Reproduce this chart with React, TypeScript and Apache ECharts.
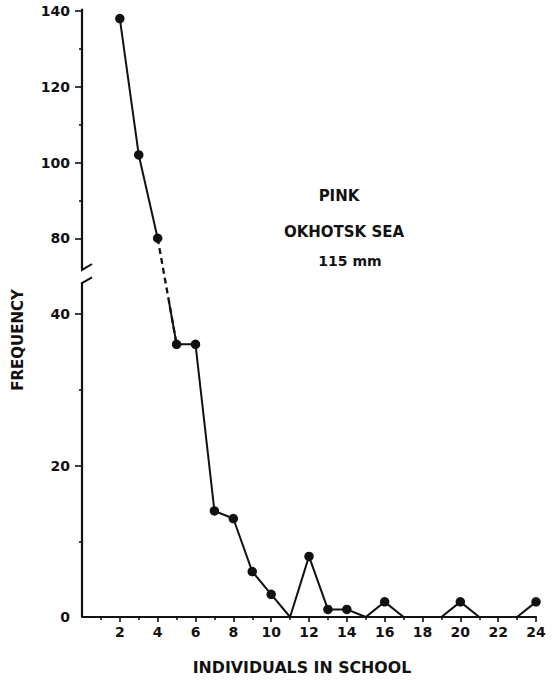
import React, { useEffect, useRef } from "react";
import * as echarts from "echarts";

// ---- data ----
const SCHOOL_SIZE = [2, 3, 4, 5, 6, 7, 8, 9, 10, 11, 12, 13, 14, 15, 16, 17, 18, 19, 20, 21, 22, 23, 24];
const FREQUENCY = [138, 102, 80, 36, 36, 14, 13, 6, 3, 0, 8, 1, 1, 0, 2, 0, 0, 0, 2, 0, 0, 0, 2];
const X_TICK_LABELS = [2, 4, 6, 8, 10, 12, 14, 16, 18, 20, 22, 24];
const X_MINOR_TICKS = [1, 3, 5, 7, 9, 11, 13, 15, 17, 19, 21, 23];
const Y_TICK_LABELS = [0, 20, 40, 80, 100, 120, 140];
const Y_MINOR_TICKS = [10, 30, 90, 110, 130];
const NOTE_LINES = ["PINK", "OKHOTSK SEA", "115 mm"];
const X_TITLE = "INDIVIDUALS IN SCHOOL";
const Y_TITLE = "FREQUENCY";

// ---- broken-axis mapping (lower part 1:1, upper part at half scale) ----
const LOWER_MAX = 45;
const UPPER_BASE = 80;
const UPPER_BASE_D = 50;
const UPPER_RATIO = 0.5;
const toD = (v: number) => (v <= LOWER_MAX ? v : UPPER_BASE_D + (v - UPPER_BASE) * UPPER_RATIO);
const fromD = (d: number) => (d <= LOWER_MAX ? d : UPPER_BASE + (d - UPPER_BASE_D) / UPPER_RATIO);
const D_MAX = 80;
const SOLID_CLIP_D = 41.5; // bridge segment drawn solid below this display level

// ---- layout ----
const W = 552;
const H = 681;
const GRID = { left: 82, right: 16, top: 11, bottom: 64 };
const GRID_H = H - GRID.top - GRID.bottom;
const GRID1_TOP = GRID.top + ((D_MAX - SOLID_CLIP_D) / D_MAX) * GRID_H;
const INK = "#111";
const FONT = "DejaVu Sans";
const LINE_W = 2;

// axis line segments and break marks (display units)
const AXIS_LOWER_END = 44.2;
const AXIS_UPPER_START = 45.9;
const AXIS_TOP = 80.3;
const BREAK_MARKS = [
  [[-0.42, 45.2], [0.53, 46.6]],
  [[-0.42, 43.5], [0.53, 44.85]],
];

export default function App() {
  const ref = useRef<HTMLDivElement>(null);

  useEffect(() => {
    if (!ref.current) return;
    const chart = echarts.init(ref.current, undefined, { renderer: "svg" });

    // main series points; break the line where it crosses the axis break
    const mainData: any[] = [];
    const bridges: number[][][] = [];
    for (let i = 0; i < SCHOOL_SIZE.length; i++) {
      if (i > 0) {
        const a = FREQUENCY[i - 1];
        const b = FREQUENCY[i];
        if ((a > LOWER_MAX) !== (b > LOWER_MAX)) {
          mainData.push([SCHOOL_SIZE[i], "-"]);
          bridges.push([
            [SCHOOL_SIZE[i - 1], toD(a)],
            [SCHOOL_SIZE[i], toD(b)],
          ]);
        }
      }
      mainData.push([SCHOOL_SIZE[i], toD(FREQUENCY[i])]);
    }

    const lineBase = {
      type: "line",
      silent: true,
      symbol: "none",
      animation: false,
    };

    const series: any[] = [
      {
        ...lineBase,
        name: "frequency",
        xAxisIndex: 0,
        yAxisIndex: 0,
        data: mainData,
        symbol: "circle",
        symbolSize: (v: any) => (Number(v[1]) === 0 ? 0 : 9.5),
        itemStyle: { color: INK },
        lineStyle: { color: INK, width: LINE_W },
        connectNulls: false,
        z: 5,
      },
      ...bridges.map((b) => ({
        ...lineBase,
        xAxisIndex: 0,
        yAxisIndex: 0,
        data: b,
        lineStyle: { color: INK, width: LINE_W + 0.3, type: [6, 4] },
        z: 4,
      })),
      ...bridges.map((b) => ({
        ...lineBase,
        xAxisIndex: 2,
        yAxisIndex: 2,
        data: b,
        lineStyle: { color: INK, width: LINE_W },
        z: 4,
      })),
      {
        ...lineBase,
        xAxisIndex: 0,
        yAxisIndex: 0,
        clip: false,
        data: [[0, 0], [0, AXIS_LOWER_END]],
        lineStyle: { color: INK, width: 2.2 },
      },
      {
        ...lineBase,
        xAxisIndex: 0,
        yAxisIndex: 0,
        clip: false,
        data: [[0, AXIS_UPPER_START], [0, AXIS_TOP]],
        lineStyle: { color: INK, width: 2.2 },
      },
      ...BREAK_MARKS.map((m) => ({
        ...lineBase,
        xAxisIndex: 0,
        yAxisIndex: 0,
        clip: false,
        data: m,
        lineStyle: { color: INK, width: 2 },
      })),
    ];

    const labelStyle = {
      color: INK,
      fontFamily: FONT,
      fontWeight: "bold" as const,
      fontSize: 14,
    };

    const noteY = [196, 232, 261];
    const noteX = [339, 344, 350];
    const noteSize = [15, 15, 14];

    chart.setOption({
      animation: false,
      backgroundColor: "#fff",
      grid: [
        { ...GRID, containLabel: false },
        { left: GRID.left, right: GRID.right, top: GRID1_TOP, bottom: GRID.bottom, containLabel: false },
      ],
      xAxis: [
        {
          type: "value",
          gridIndex: 0,
          min: 0,
          max: 24,
          interval: 2,
          position: "bottom",
          axisLine: { show: true, lineStyle: { color: INK, width: 2.2 } },
          axisTick: { show: true, customValues: X_TICK_LABELS, length: 5, lineStyle: { color: INK, width: 1.6 } },
          axisLabel: { ...labelStyle, customValues: X_TICK_LABELS, margin: 8 },
          splitLine: { show: false },
        },
        {
          type: "value",
          gridIndex: 0,
          min: 0,
          max: 24,
          interval: 1,
          position: "bottom",
          axisLine: { show: false },
          axisTick: { show: true, customValues: X_MINOR_TICKS, length: 3, lineStyle: { color: INK, width: 1.6 } },
          axisLabel: { show: false },
          splitLine: { show: false },
        },
        {
          type: "value",
          gridIndex: 1,
          min: 0,
          max: 24,
          show: false,
        },
      ],
      yAxis: [
        {
          type: "value",
          gridIndex: 0,
          min: 0,
          max: D_MAX,
          interval: 10,
          position: "left",
          axisLine: { show: false },
          axisTick: {
            show: true,
            customValues: Y_TICK_LABELS.filter((v) => v !== 0).map(toD),
            length: 7,
            lineStyle: { color: INK, width: 1.6 },
          },
          axisLabel: {
            ...labelStyle,
            customValues: Y_TICK_LABELS.map(toD),
            formatter: (d: number) => String(Math.round(fromD(d))),
            margin: 12,
          },
          splitLine: { show: false },
        },
        {
          type: "value",
          gridIndex: 0,
          min: 0,
          max: D_MAX,
          interval: 10,
          position: "left",
          axisLine: { show: false },
          axisTick: {
            show: true,
            customValues: Y_MINOR_TICKS.map(toD),
            length: 3,
            lineStyle: { color: INK, width: 1.6 },
          },
          axisLabel: { show: false },
          splitLine: { show: false },
        },
        {
          type: "value",
          gridIndex: 1,
          min: 0,
          max: SOLID_CLIP_D,
          show: false,
        },
      ],
      graphic: [
        ...NOTE_LINES.map((t, i) => ({
          type: "text",
          x: noteX[i],
          y: noteY[i],
          silent: true,
          style: {
            text: t,
            fill: INK,
            font: `bold ${noteSize[i]}px "${FONT}"`,
            textAlign: "center",
            textVerticalAlign: "middle",
            align: "center",
            verticalAlign: "middle",
          },
        })),
        {
          type: "text",
          x: 302,
          y: 667,
          silent: true,
          style: {
            text: X_TITLE,
            fill: INK,
            font: `bold 15.8px "${FONT}"`,
            textAlign: "center",
            textVerticalAlign: "middle",
            align: "center",
            verticalAlign: "middle",
          },
        },
        {
          type: "text",
          x: 18,
          y: 340,
          rotation: Math.PI / 2,
          silent: true,
          style: {
            text: Y_TITLE,
            fill: INK,
            font: `bold 15px "${FONT}"`,
            textAlign: "center",
            textVerticalAlign: "middle",
            align: "center",
            verticalAlign: "middle",
          },
        },
      ],
      series,
    });

    return () => chart.dispose();
  }, []);

  return (
    <div
      ref={ref}
      style={{ position: "fixed", left: 0, top: 0, width: W, height: H, background: "#fff" }}
    />
  );
}
